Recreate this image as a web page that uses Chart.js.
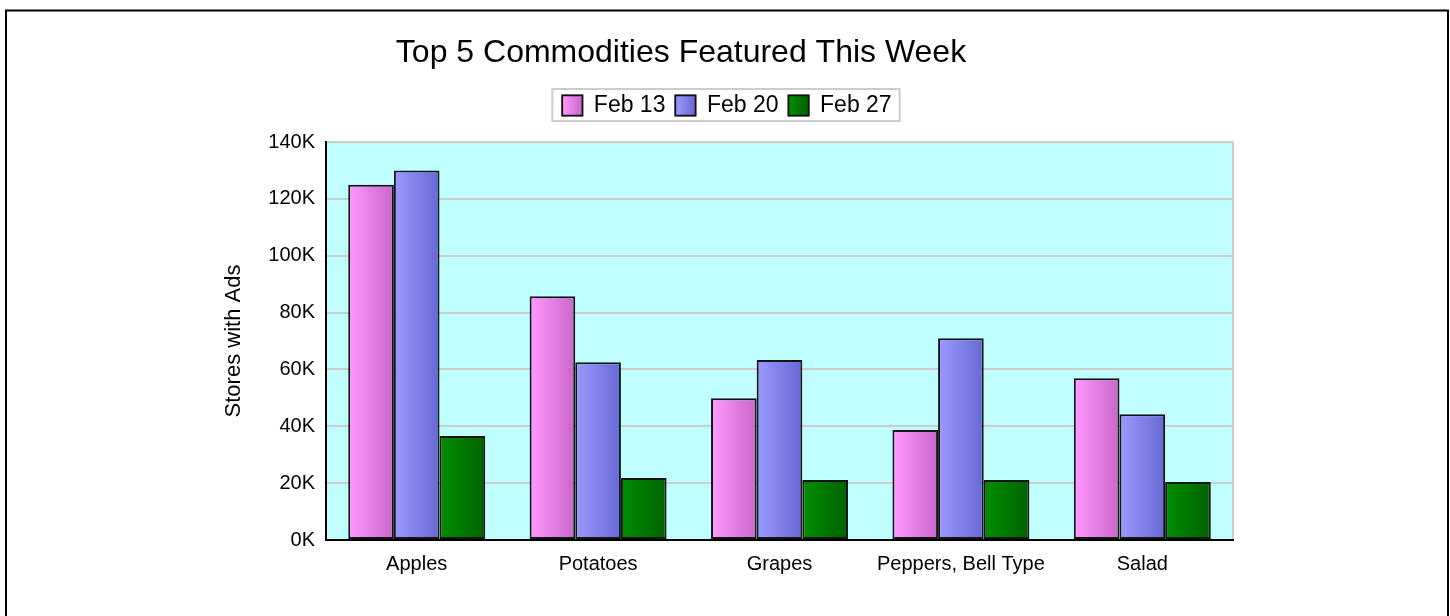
<!DOCTYPE html>
<html lang="en">

<head>
    <meta charset="UTF-8">
    <title>Top 5 Commodities Featured This Week</title>
    <script src="https://cdn.jsdelivr.net/npm/chart.js"></script>
    <style>
        body {
            margin: 0;
            background-color: #ffffff;
        }

        canvas {
            display: block;
        }
    </style>
</head>

<body>

    <canvas id="adsChart" width="1450" height="616"></canvas>

    <script>
        const commodities = ['Apples', 'Potatoes', 'Grapes', 'Peppers, Bell Type', 'Salad'];
        const weeks = ['Feb 13', 'Feb 20', 'Feb 27'];
        const feb13 = [125000, 85700, 49900, 38700, 56900];
        const feb20 = [130000, 62500, 63300, 71000, 44200];
        const feb27 = [36600, 21800, 21100, 21100, 20400];
        const yTicks = [0, 20000, 40000, 60000, 80000, 100000, 120000, 140000];

        // left -> right shade of each bar
        const shades = [
            ['#ff99ff', '#c966c9'],
            ['#9a9aff', '#6868d4'],
            ['#008e00', '#006200']
        ];
        const catPct = 0.755;

        function barGradient(ctx) {
            const chart = ctx.chart;
            const pair = shades[ctx.datasetIndex];
            const x = chart.scales.x;
            if (!chart.chartArea || !x || ctx.dataIndex === undefined) return pair[0];
            const catW = x.width / commodities.length;
            const groupW = catW * catPct;
            const barW = groupW / weeks.length;
            const left = x.getPixelForValue(ctx.dataIndex) - groupW / 2 + ctx.datasetIndex * barW;
            const g = chart.ctx.createLinearGradient(left, 0, left + barW, 0);
            g.addColorStop(0, pair[0]);
            g.addColorStop(1, pair[1]);
            return g;
        }

        const font = "'Liberation Sans', Arial, sans-serif";

        const framePlugin = {
            id: 'frame',
            beforeLayout(chart) {
                // leave room between legend and plot
                const lg = chart.legend;
                if (lg && !lg._spaced) {
                    const fit = lg.fit.bind(lg);
                    lg.fit = function () {
                        fit();
                        this.height += 15;
                    };
                    lg._spaced = true;
                }
            },
            beforeDraw(chart) {
                const c = chart.ctx;
                const a = chart.chartArea;
                c.save();
                c.fillStyle = '#c0ffff';
                c.fillRect(a.left, a.top, a.right - a.left, a.bottom - a.top);
                c.strokeStyle = '#cccccc';
                c.lineWidth = 2;
                c.strokeRect(a.left, a.top, a.right - a.left, a.bottom - a.top);
                c.restore();
            },
            afterDraw(chart) {
                const c = chart.ctx;
                c.save();
                // outer frame
                c.strokeStyle = '#000000';
                c.lineWidth = 2;
                c.strokeRect(6, 10.5, 1442, 620);
                // title
                c.fillStyle = '#000000';
                c.font = '32px ' + font;
                c.textAlign = 'center';
                c.textBaseline = 'middle';
                c.fillText('Top 5 Commodities Featured This Week', 681, 53);
                // legend frame and shaded swatches
                const boxes = chart.legend.legendHitBoxes;
                if (boxes && boxes.length) {
                    const l = boxes[0].left - 10;
                    const last = boxes[boxes.length - 1];
                    const r = last.left + last.width + 8;
                    c.strokeStyle = '#cccccc';
                    c.lineWidth = 2;
                    c.strokeRect(l, 89, r - l, 32);
                    boxes.forEach((b, i) => {
                        const y = b.top + (b.height - 20) / 2;
                        const g = c.createLinearGradient(b.left, 0, b.left + 20, 0);
                        g.addColorStop(0, shades[i][0]);
                        g.addColorStop(1, shades[i][1]);
                        c.fillStyle = g;
                        c.fillRect(b.left, y, 20, 20);
                        c.strokeStyle = '#111111';
                        c.lineWidth = 1.5;
                        c.strokeRect(b.left, y, 20, 20);
                    });
                }
                c.restore();
            }
        };

        const ctx = document.getElementById('adsChart').getContext('2d');
        new Chart(ctx, {
            type: 'bar',
            data: {
                labels: commodities,
                datasets: [feb13, feb20, feb27].map((vals, i) => ({
                    label: weeks[i],
                    data: vals,
                    backgroundColor: barGradient,
                    borderColor: '#151515',
                    borderWidth: 2,
                    borderSkipped: false,
                    categoryPercentage: catPct,
                    barPercentage: 1
                }))
            },
            options: {
                responsive: false,
                animation: false,
                layout: {
                    padding: { left: 221, right: 217, top: 84, bottom: 0 }
                },
                plugins: {
                    title: { display: false },
                    tooltip: { enabled: false },
                    legend: {
                        display: true,
                        labels: {
                            font: { family: font, size: 23 },
                            color: '#000000',
                            boxWidth: 20,
                            boxHeight: 20,
                            padding: 10
                        }
                    }
                },
                scales: {
                    x: {
                        grid: { display: false },
                        border: { color: '#000000', width: 2 },
                        ticks: {
                            color: '#000000',
                            font: { family: font, size: 20 },
                            padding: 4,
                            maxRotation: 0
                        },
                        afterFit(axis) { axis.height = 76; }
                    },
                    y: {
                        min: 0,
                        max: 140000,
                        afterBuildTicks(axis) { axis.ticks = yTicks.map(v => ({ value: v })); },
                        grid: { color: '#cccccc', lineWidth: 2, drawTicks: false },
                        border: { color: '#000000', width: 2 },
                        ticks: {
                            color: '#000000',
                            font: { family: font, size: 20 },
                            padding: 11,
                            callback: v => (v / 1000) + 'K'
                        },
                        title: {
                            display: true,
                            text: 'Stores with Ads',
                            color: '#000000',
                            font: { family: font, size: 22 },
                            padding: 0
                        },
                        afterFit(axis) { axis.width = 105; }
                    }
                }
            },
            plugins: [framePlugin]
        });
    </script>

</body>

</html>
